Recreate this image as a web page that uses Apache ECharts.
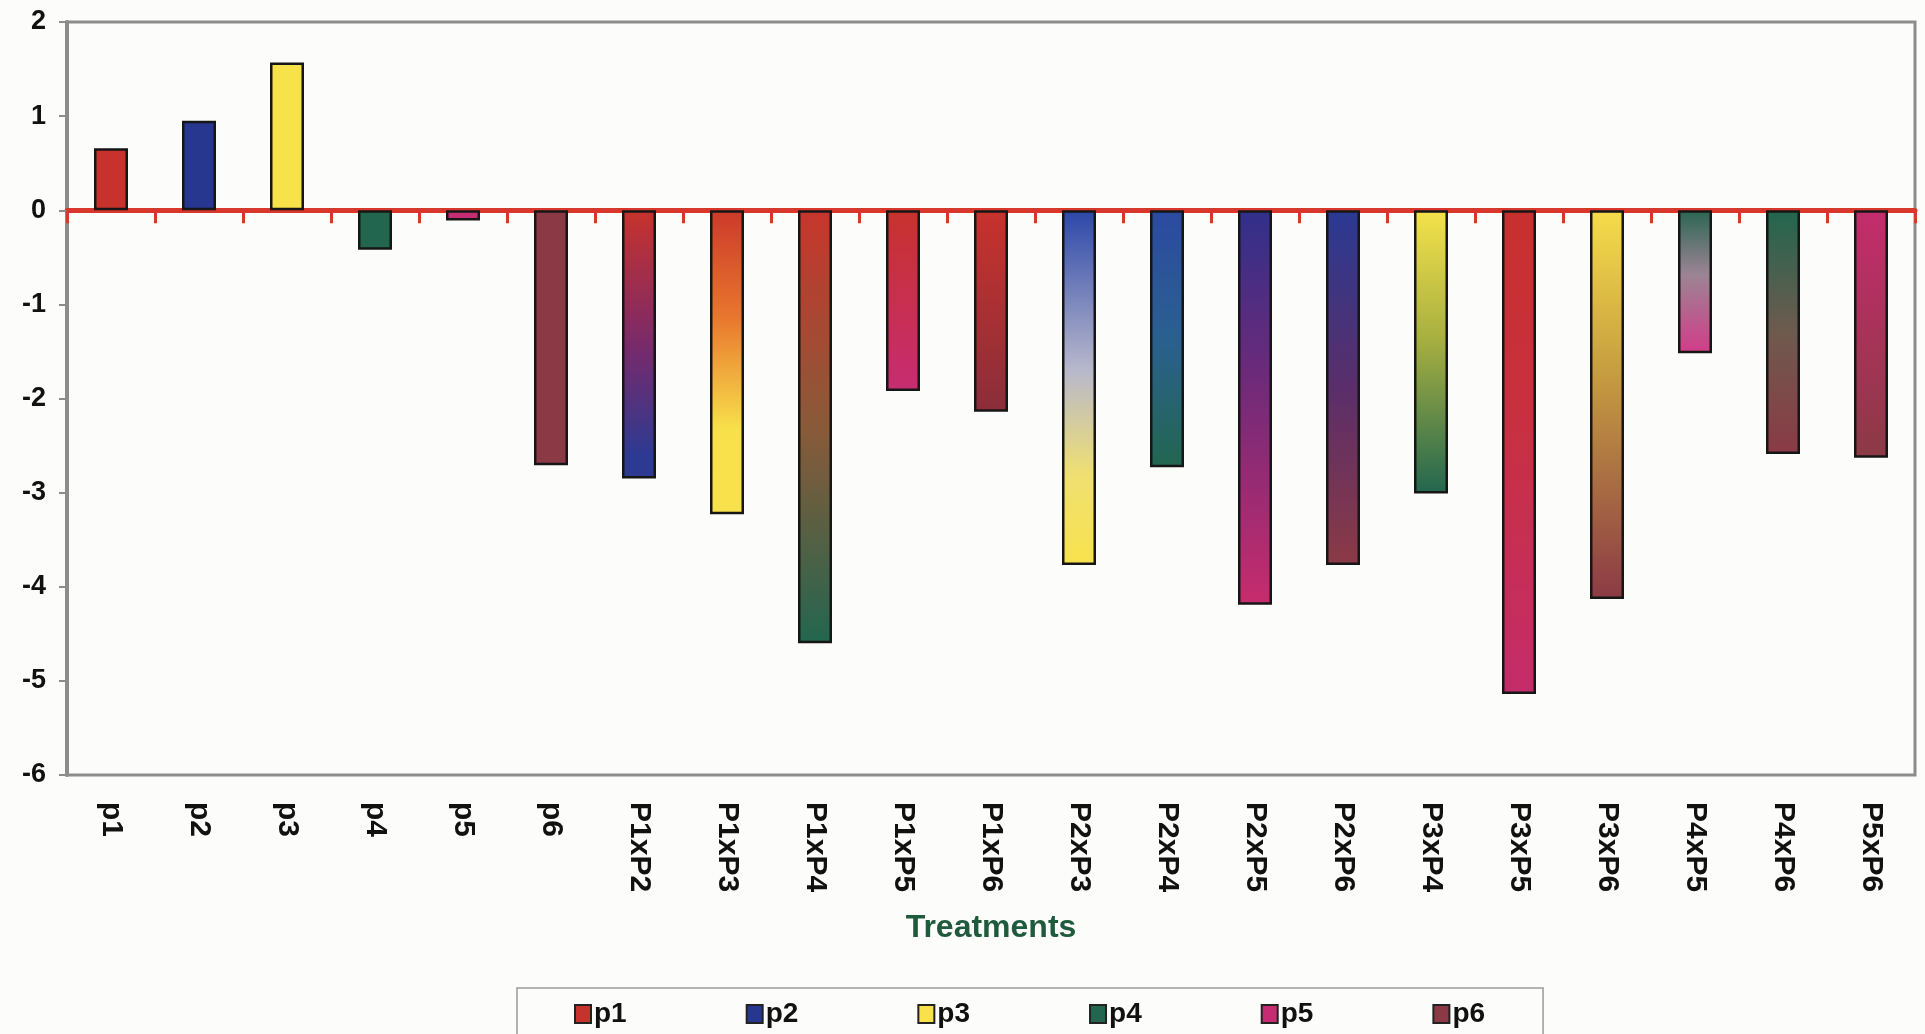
<!DOCTYPE html>
<html>
<head>
<meta charset="utf-8">
<title>Treatments</title>
<script src="https://cdn.jsdelivr.net/npm/echarts@6/dist/echarts.min.js"></script>
<style>
  html, body { margin: 0; padding: 0; background: #FCFCFA; }
  #chart { width: 1925px; height: 1034px; }
</style>
</head>
<body>
<div id="chart"></div>
<script>
// Treatments on the category axis: six parents, then their crosses
const categories = ['p1', 'p2', 'p3', 'p4', 'p5', 'p6',
  'P1xP2', 'P1xP3', 'P1xP4', 'P1xP5', 'P1xP6',
  'P2xP3', 'P2xP4', 'P2xP5', 'P2xP6',
  'P3xP4', 'P3xP5', 'P3xP6',
  'P4xP5', 'P4xP6',
  'P5xP6'];

// Effect value for each treatment
const values = [0.66, 0.95, 1.57, -0.42, -0.11, -2.71,
  -2.85, -3.23, -4.60, -1.92, -2.14,
  -3.77, -2.73, -4.19, -3.77,
  -3.01, -5.14, -4.13,
  -1.52, -2.59,
  -2.63];

// Parent names shown in the legend
const parents = ['p1', 'p2', 'p3', 'p4', 'p5', 'p6'];

// Value-axis range and step
const yMin = -6;
const yMax = 2;
const yStep = 1;

// ---- styling ----
const parentColour = {
  p1: '#C8322C',
  p2: '#27368E',
  p3: '#F7E24A',
  p4: '#22664F',
  p5: '#C72C72',
  p6: '#8B3A45'
};

// Fill of each bar, from the zero line downwards
const fillStops = {
  'P1xP2': [[0, '#C8322C'], [0.5, '#7A2A6A'], [0.92, '#2C3A92'], [1, '#2C3A92']],
  'P1xP3': [[0, '#CC3A2A'], [0.35, '#E8762E'], [0.72, '#F8E04A'], [1, '#F8E24C']],
  'P1xP4': [[0, '#C8352C'], [0.5, '#8A5A38'], [1, '#22664F']],
  'P1xP5': [[0, '#C8322C'], [1, '#C72C72']],
  'P1xP6': [[0, '#C8322C'], [1, '#8A2E3A']],
  'P2xP3': [[0, '#2C47A8'], [0.45, '#B8B8CC'], [0.75, '#F0E070'], [1, '#F8E24C']],
  'P2xP4': [[0, '#2B4AA0'], [0.5, '#2A6090'], [1, '#22664F']],
  'P2xP5': [[0, '#30308A'], [0.4, '#6A2A7A'], [1, '#C72C6C']],
  'P2xP6': [[0, '#2A3A92'], [0.5, '#5A2E6A'], [1, '#8B3A45']],
  'P3xP4': [[0, '#F4E24A'], [0.45, '#A8B040'], [1, '#22664F']],
  'P3xP5': [[0, '#C8302E'], [0.4, '#C8303E'], [1, '#C42C6A']],
  'P3xP6': [[0, '#F6DC4A'], [0.4, '#C8A040'], [1, '#8B3A45']],
  'P4xP5': [[0, '#2A6652'], [0.45, '#9C8494'], [1, '#D23C88']],
  'P4xP6': [[0, '#22664F'], [0.5, '#6E5A4E'], [1, '#8B3A45']],
  'P5xP6': [[0, '#C42C6C'], [1, '#8B3A45']]
};

function fillFor(name) {
  if (parentColour[name]) return parentColour[name];
  return {
    type: 'linear', x: 0, y: 0, x2: 0, y2: 1,
    colorStops: fillStops[name].map(s => ({ offset: s[0], color: s[1] }))
  };
}

const FONT = "'Liberation Sans', Arial, sans-serif";
const redAxis = '#D8382C';
const frameGrey = '#8C8C8C';

const barData = categories.map((name, i) => ({
  value: values[i],
  itemStyle: { color: fillFor(name) }
}));

// Legend entries: empty series on the label axis so they do not take bar slots
const legendSeries = parents.map(p => ({
  name: p,
  type: 'bar',
  xAxisIndex: 1,
  data: [],
  itemStyle: { color: parentColour[p], borderColor: '#222', borderWidth: 1.5 }
}));

const chart = echarts.init(document.getElementById('chart'), null, { renderer: 'canvas' });

chart.setOption({
  backgroundColor: '#FCFCFA',
  animation: false,
  grid: {
    left: 67, right: 10, top: 22, bottom: 259,
    show: true,
    borderColor: frameGrey,
    borderWidth: 3,
    backgroundColor: 'transparent'
  },
  legend: {
    data: parents,
    left: 517,
    top: 988,
    orient: 'horizontal',
    itemWidth: 16,
    itemHeight: 18,
    itemGap: 119,
    icon: 'rect',
    padding: [12, 58, 30, 57],
    borderColor: '#9A9A9A',
    borderWidth: 1.5,
    backgroundColor: '#FCFCFA',
    textStyle: { fontFamily: FONT, fontWeight: 'bold', fontSize: 28, color: '#111', padding: [0, 0, 0, -2] }
  },
  xAxis: [
    {
      // zero line with boundary ticks
      type: 'category',
      data: categories,
      axisLine: { show: true, onZero: true, lineStyle: { color: redAxis, width: 5 } },
      axisTick: { show: true, alignWithLabel: false, length: 13, lineStyle: { color: redAxis, width: 3 } },
      axisLabel: { show: false },
      splitLine: { show: false }
    },
    {
      // treatment labels along the bottom
      type: 'category',
      data: categories,
      position: 'bottom',
      axisLine: { show: false, onZero: false },
      axisTick: { show: false },
      splitLine: { show: false },
      axisLabel: {
        rotate: -90,
        margin: 27,
        interval: 0,
        fontFamily: FONT,
        fontWeight: 'bold',
        fontSize: 30,
        color: '#111'
      },
      name: 'Treatments',
      nameLocation: 'middle',
      nameGap: 137,
      nameTextStyle: { fontFamily: FONT, fontWeight: 'bold', fontSize: 32, color: '#1F5A3C' }
    }
  ],
  yAxis: {
    type: 'value',
    min: yMin,
    max: yMax,
    interval: yStep,
    axisLine: { show: true, lineStyle: { color: frameGrey, width: 4 } },
    axisTick: { show: true, length: 8, lineStyle: { color: frameGrey, width: 2 } },
    axisLabel: {
      margin: 21,
      fontFamily: FONT,
      fontWeight: 'bold',
      fontSize: 27,
      color: '#111'
    },
    splitLine: { show: false }
  },
  series: [
    {
      name: 'Treatments',
      type: 'bar',
      xAxisIndex: 0,
      barWidth: 34,
      data: barData,
      itemStyle: { borderColor: '#161616', borderWidth: 2.5 },
      z: 3
    }
  ].concat(legendSeries)
});
</script>
</body>
</html>
